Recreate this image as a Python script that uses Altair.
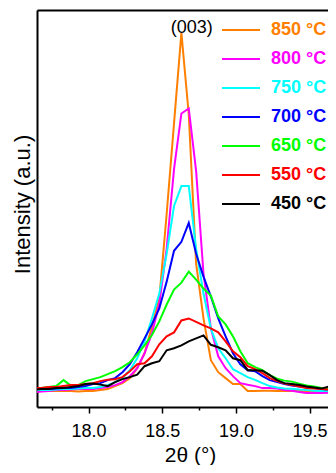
import altair as alt
import pandas as pd

two_theta = [17.63, 17.68, 17.73, 17.78, 17.83, 17.88, 17.93, 17.98, 18.03, 18.08,
             18.13, 18.18, 18.23, 18.28, 18.33, 18.38, 18.43, 18.48, 18.53, 18.58,
             18.63, 18.68, 18.73, 18.78, 18.83, 18.88, 18.93, 18.98, 19.03, 19.08,
             19.13, 19.18, 19.23, 19.28, 19.33, 19.38, 19.43, 19.48, 19.53, 19.58,
             19.63, 19.68]

i_850 = [17, 17, 16, 16, 16, 16, 15.5, 16, 16, 17, 18, 21, 24, 29, 39, 54, 81, 109, 194, 285,
         376, 294, 144, 89, 47, 35, 29, 23, 23, 16, 16, 16.3, 16.3, 16, 16, 16.3, 16, 15.5, 15, 15,
         14.5, 14]
i_800 = [15, 15.5, 16, 17, 17, 17.5, 18, 18, 18, 19, 20, 22, 25, 31, 39, 54, 74, 104, 159, 239,
         295, 300, 237, 134, 79, 51, 39, 31, 24, 22.3, 21, 19, 19, 18.5, 17, 16.3, 15, 14, 14, 14,
         14.5, 15]
i_750 = [17, 17, 17, 17.5, 18, 18, 18.5, 19, 19, 20, 22, 25, 29, 37, 49, 66, 89, 114, 154, 202,
         222, 222, 159, 114, 79, 59, 49, 38, 34, 30, 27.3, 24, 21, 19.5, 18.5, 18.3, 17.5, 17, 16.3, 16,
         16, 16]
i_700 = [18, 18, 18, 18.5, 19, 19, 20, 21, 23, 24, 27, 29, 35, 43, 55, 69, 83, 99, 126, 157,
         166, 185, 154, 131, 111, 89, 71, 54, 43, 37, 36, 31, 27, 25, 23, 21.5, 20.5, 19.5, 19, 18,
         17.5, 17]
i_650 = [19, 19, 20, 21, 27, 21.5, 22, 26, 28, 30, 33, 36, 40, 45, 53, 62, 72.3, 86, 103, 118,
         125, 136, 128, 119, 112, 91, 83, 71, 56, 44, 40, 37, 32, 28.5, 26.5, 25.5, 23.5, 21.7, 20.5, 19,
         18.5, 18]
i_550 = [19, 19, 20, 20, 21, 22, 22, 23, 24, 26, 27.5, 28, 30, 36, 43, 44, 51, 63, 71, 75,
         87, 89, 85.5, 82, 79, 75, 66, 56, 50, 41, 38, 34, 29, 26, 23.5, 22, 20.5, 19, 18.5, 18,
         17.5, 17]
i_450 = [17.5, 18, 18, 19, 19, 20, 21, 23, 23.5, 22.5, 21, 25, 28, 30, 32.5, 41, 44, 46, 57, 59,
         62, 66, 69, 72, 62.5, 60, 57, 49, 47, 37, 37, 36.5, 32, 27, 24, 23, 22, 20.5, 19.5, 18.5,
         20.5, 19]

series_labels = ["850 °C", "800 °C", "750 °C", "700 °C", "650 °C", "550 °C", "450 °C"]
series_values = [i_850, i_800, i_750, i_700, i_650, i_550, i_450]
series_colors = ["#FF7F00", "#FF00FF", "#00FFFF", "#0000FF", "#00FF00", "#FF0000", "#000000"]

tick_values = [17.75, 18.0, 18.25, 18.5, 18.75, 19.0, 19.25, 19.5]

ann_x = [18.70]
ann_y = [381]
ann_text = ["(003)"]

rows = []
for lab, vals in zip(series_labels, series_values):
    for x, v in zip(two_theta, vals):
        rows.append({"two_theta": x, "intensity": v, "series": lab})
df = pd.DataFrame(rows)
ann = pd.DataFrame({"x": ann_x, "y": ann_y, "t": ann_text})

FONT = "Liberation Sans"

xscale = alt.Scale(domain=[17.65, 19.625], nice=False, zero=False)
yscale = alt.Scale(domain=[0, 399], nice=False, zero=False)

yaxis = alt.Axis(labels=False, ticks=False, grid=False, domainColor="black", domainWidth=2,
                 title="Intensity (a.u.)", titleFontSize=22, titleFont=FONT,
                 titleFontWeight="normal", titleColor="black", titlePadding=3, titleY=194)

lines = alt.Chart(df).mark_line(strokeWidth=2, clip=True).encode(
    x=alt.X("two_theta:Q", scale=xscale,
            axis=alt.Axis(values=tick_values,
                          labelExpr="datum.value % 0.5 == 0 ? format(datum.value, '.1f') : ''",
                          tickSize={"condition": {"test": "datum.value % 0.5 == 0", "value": 6}, "value": 3},
                          tickWidth=1.5, tickColor="black",
                          labelFontSize=18, labelFont=FONT, labelColor="black", labelPadding=9,
                          domainColor="black", domainWidth=2, grid=False,
                          title="2θ (°)", titleFontSize=21, titleFont=FONT,
                          titleFontWeight="normal", titleColor="black",
                          titleX=153, titleY=54, titleBaseline="alphabetic", titleAlign="center")),
    y=alt.Y("intensity:Q", scale=yscale, axis=yaxis),
    color=alt.Color("series:N", sort=series_labels,
                    scale=alt.Scale(domain=series_labels, range=series_colors),
                    legend=alt.Legend(orient="none", legendX=193.5, legendY=9.5, title=None,
                                      symbolType="M-2,0H2", symbolSize=361, symbolStrokeWidth=2,
                                      labelFontSize=18, labelFontWeight="bold", labelFont=FONT,
                                      labelColor={"expr": "scale('color', datum.value)"},
                                      labelOffset=19.5, rowPadding=9, padding=0)),
)

label = alt.Chart(ann).mark_text(fontSize=18, font=FONT, color="black", baseline="middle",
                                 align="center").encode(
    x=alt.X("x:Q", scale=xscale,
            axis=alt.Axis(orient="top", labels=False, ticks=False, grid=False, title=None,
                          domainColor="black", domainWidth=2)),
    y=alt.Y("y:Q", scale=yscale, title="Intensity (a.u.)"),
    text="t:N")

chart = alt.layer(lines, label).resolve_axis(x="independent").properties(
    width=291, height=397,
    padding={"left": 29, "top": 2, "right": 0, "bottom": 58},
    autosize=alt.AutoSizeParams(type="none"),
).configure_view(stroke=None).configure(background="white")

chart.save("out.html", embed_options={"renderer": "svg", "actions": False})
